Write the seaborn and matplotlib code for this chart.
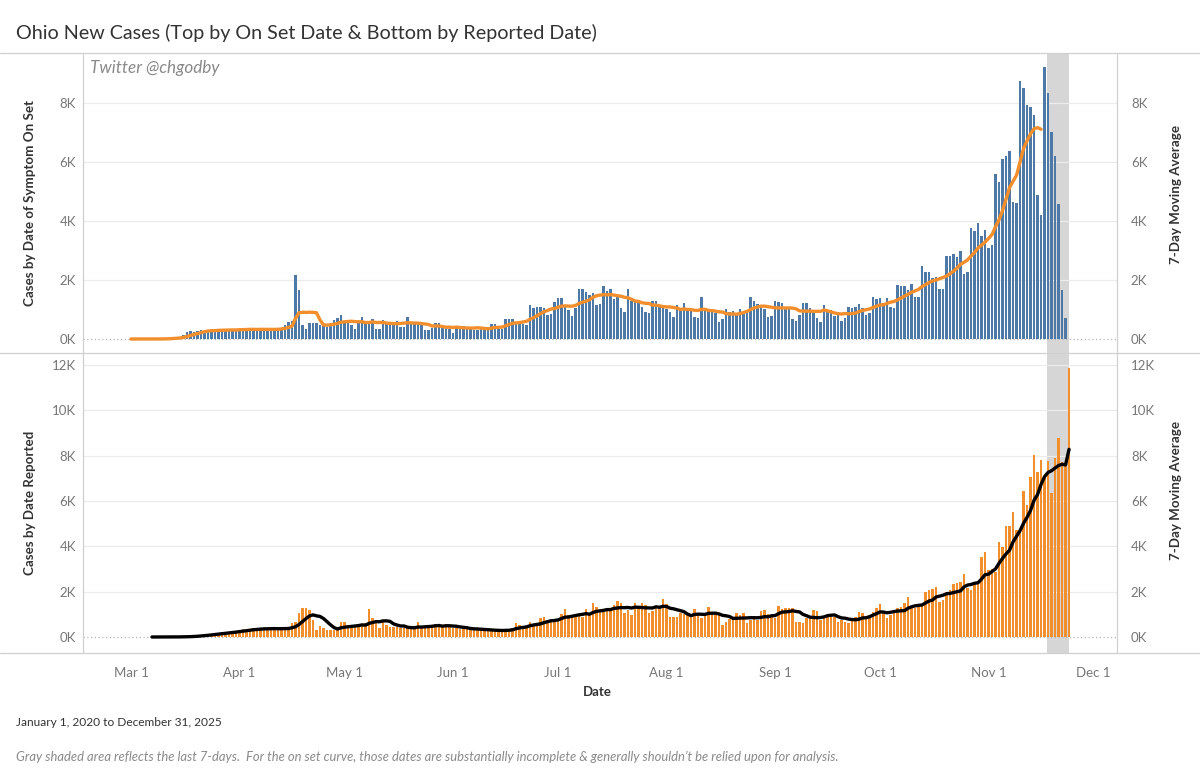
import matplotlib
matplotlib.use("Agg")
import matplotlib.pyplot as plt
from matplotlib.lines import Line2D
import numpy as np
import pandas as pd
import seaborn as sns

# ---------------- data (daily values, starting 2020-03-01) ----------------
onset_mar = [0, 0, 0, 0, 0, 0, 0, 0, 5, 10, 15, 30, 50, 60, 80, 120, 250, 280, 230, 270,
             300, 270, 300, 320, 290, 300, 300, 320, 300, 320, 310]
onset_apr = [350, 330, 340, 330, 310, 290, 350, 330, 330, 330, 340, 330, 380, 480, 560,
             620, 2170, 1660, 475, 340, 530, 530, 530, 480, 460, 420, 430, 645, 725, 815]
onset_may = [590, 530, 480, 340, 610, 735, 610, 610, 670, 340, 340, 645, 555, 555, 555, 620,
             420, 400, 735, 530, 530, 530, 530, 305, 305, 360, 530, 530, 400, 360, 330]
onset_jun = [215, 450, 450, 450, 360, 360, 305, 305, 360, 360, 380, 510, 510, 360, 340,
             670, 670, 670, 590, 590, 520, 480, 1155, 1065, 1100, 1100, 1040, 815, 850, 1245]
onset_jul = [1380, 1380, 1150, 985, 790, 1040, 1700, 1690, 1610, 1495, 1575, 1155, 1190, 1810,
             1640, 1690, 1350, 1440, 1040, 930, 1690, 1290, 1270, 1270, 1100, 930, 870, 1300,
             1300, 1100, 1100]
onset_aug = [1010, 930, 735, 1155, 985, 1210, 985, 985, 760, 700, 1415, 985, 950, 930, 870,
             590, 670, 1010, 930, 950, 870, 1010, 850, 930, 1440, 1300, 1190, 1075, 1010, 735, 790]
onset_sep = [1300, 1270, 1210, 1040, 1040, 680, 620, 815, 1210, 1210, 1040, 985, 700, 590,
             1155, 985, 985, 780, 815, 620, 700, 1100, 1040, 1075, 1190, 1040, 815, 870, 1440, 1350]
onset_oct = [1380, 1210, 1380, 1100, 1040, 1835, 1780, 1800, 1665, 1870, 1415, 1415, 2490,
             2265, 2265, 2060, 2100, 1710, 1710, 2820, 2820, 2880, 2775, 3000, 2210, 2265,
             3760, 3650, 3930, 3480, 3680]
onset_nov = [3100, 3195, 5610, 5325, 6085, 6220, 6370, 4635, 4610, 8750, 8520, 7930, 7875,
             7580, 4895, 4215, 9235, 8350, 7015, 6200, 4580, 1665, 700]

reported_mar = [0, 0, 0, 0, 0, 0, 0, 0, 1, 0, 2, 1, 8, 11, 10, 17, 17, 40, 50, 80, 100, 110,
                120, 140, 150, 180, 200, 220, 240, 250, 270]
reported_apr = [300, 350, 330, 360, 380, 350, 370, 380, 360, 380, 380, 340, 360, 380, 420,
                600, 680, 1050, 1290, 1265, 1190, 750, 310, 500, 410, 310, 310, 330, 310, 680]
reported_may = [680, 530, 420, 420, 480, 530, 600, 1220, 820, 680, 380, 750, 530, 455, 455,
                455, 380, 380, 380, 380, 420, 680, 455, 455, 455, 455, 560, 485, 485, 575, 450]
reported_jun = [380, 380, 360, 360, 360, 340, 340, 340, 300, 280, 260, 280, 300, 280, 310,
                320, 330, 400, 630, 530, 455, 455, 680, 560, 560, 820, 900, 750, 750, 750]
reported_jul = [750, 1000, 1220, 970, 970, 970, 970, 900, 1220, 1045, 1485, 1340, 1115, 1115,
                1145, 1220, 1410, 1600, 1485, 1075, 1190, 970, 1485, 1370, 1515, 1410, 1045,
                1160, 1340, 1340, 1675]
reported_aug = [1455, 870, 870, 870, 1045, 1015, 970, 970, 1220, 970, 820, 1015, 1340, 1015,
                970, 1000, 530, 680, 780, 780, 1045, 970, 1045, 600, 750, 780, 750, 1160, 1190,
                1015, 900]
reported_sep = [820, 1370, 1220, 1265, 1265, 1265, 680, 680, 600, 820, 820, 1190, 1160, 750,
                870, 970, 970, 900, 675, 750, 675, 600, 820, 900, 1090, 1045, 820, 970, 1120, 1265]
reported_oct = [1440, 1045, 820, 970, 1190, 1295, 1340, 1485, 1780, 1265, 1265, 1340, 1410,
                1970, 2070, 2100, 2190, 1530, 1630, 1880, 2070, 2320, 2370, 2440, 2780, 2175,
                2070, 2440, 2470, 3540, 3760]
reported_nov = [2950, 3000, 2880, 4175, 3985, 4910, 4910, 5500, 4720, 4645, 6450, 5810, 7070,
                8025, 7290, 7810, 7070, 7750, 6335, 7900, 8790, 7700, 7600, 11880]

tick_labels = ["Mar 1", "Apr 1", "May 1", "Jun 1", "Jul 1", "Aug 1", "Sep 1", "Oct 1",
               "Nov 1", "Dec 1"]
top_ticks = [0, 2000, 4000, 6000, 8000]
bottom_ticks = [0, 2000, 4000, 6000, 8000, 10000, 12000]

# ---------------- assemble ----------------
start = pd.Timestamp("2020-03-01")
onset = (onset_mar + onset_apr + onset_may + onset_jun + onset_jul + onset_aug +
         onset_sep + onset_oct + onset_nov)
reported = (reported_mar + reported_apr + reported_may + reported_jun + reported_jul +
            reported_aug + reported_sep + reported_oct + reported_nov)

top_df = pd.DataFrame({"day": np.arange(len(onset)), "cases": onset})
top_df["ma"] = top_df["cases"].rolling(7, min_periods=1).mean()
bot_df = pd.DataFrame({"day": np.arange(len(reported)), "cases": reported})
bot_df["ma"] = bot_df["cases"].rolling(7).mean()

last_day = len(reported) - 1
top_ma_df = top_df[top_df["day"] <= len(onset) - 8]
bot_ma_df = bot_df.dropna()

tick_days = [(pd.Timestamp(f"2020-{m:02d}-01") - start).days for m in range(3, 13)]

# ---------------- style ----------------
sns.set_theme(style="white")
plt.rcParams["font.family"] = ["Lato", "DejaVu Sans"]

W, H = 1200, 775
fig = plt.figure(figsize=(W / 100, H / 100), dpi=100)


def fx(x):
    return x / W


def fy(y):
    return 1 - y / H


BLUE = "#4E79A7"
ORANGE = "#F28E2B"
GRID = "#ececec"
BORDER = "#d0d0d0"
TXT = "#333333"
TICK = "#777777"

left_px, right_px = 83, 1117
xlim = (-13.7, 281.7)

ax_top = fig.add_axes([fx(left_px), fy(353), fx(right_px - left_px), 300 / H])
ax_bot = fig.add_axes([fx(left_px), fy(653), fx(right_px - left_px), 300 / H])

for ax in (ax_top, ax_bot):
    ax.axvspan(last_day - 6.4, last_day + 0.1, color="#d6d6d6", zorder=0, lw=0)

sns.barplot(data=top_df, x="day", y="cases", native_scale=True, color=BLUE, width=0.72,
            saturation=1, errorbar=None, linewidth=0, ax=ax_top, zorder=2)
sns.lineplot(data=top_ma_df, x="day", y="ma", color=ORANGE, linewidth=2.4, ax=ax_top,
             zorder=3, solid_capstyle="round")

sns.barplot(data=bot_df, x="day", y="cases", native_scale=True, color=ORANGE, width=0.76,
            saturation=1, errorbar=None, linewidth=0, ax=ax_bot, zorder=2)
sns.lineplot(data=bot_ma_df, x="day", y="ma", color="black", linewidth=2.4, ax=ax_bot,
             zorder=3, solid_capstyle="round")

ax_top.set_ylim(-(353 - 339) / 29.5 * 1000, (339 - 53) / 29.5 * 1000)
ax_bot.set_ylim(-(653 - 637) / 22.667 * 1000, (637 - 353) / 22.667 * 1000)

for ax, ticks in ((ax_top, top_ticks), (ax_bot, bottom_ticks)):
    ax.set_xlim(*xlim)
    for t in ticks[1:]:
        ax.axhline(t, color=GRID, lw=0.9, zorder=1)
    ax.axhline(0, color="#b5b5b5", lw=0.9, ls=(0, (1, 2)), zorder=1)
    ax.set_yticks(ticks)
    ax.set_yticklabels([f"{t // 1000}K" for t in ticks])
    ax.tick_params(axis="y", length=0, pad=5, labelsize=9.5, labelcolor=TICK)
    ax.set_xlabel("")
    ax.set_ylabel("")
    for s in ax.spines.values():
        s.set_visible(False)
    ax2 = ax.twinx()
    ax2.set_ylim(ax.get_ylim())
    ax2.set_yticks(ticks)
    ax2.set_yticklabels([f"{t // 1000}K" for t in ticks])
    ax2.tick_params(axis="y", length=0, pad=10, labelsize=9.5, labelcolor=TICK)
    for s in ax2.spines.values():
        s.set_visible(False)

ax_top.set_xticks([])
ax_bot.set_xticks(tick_days)
ax_bot.set_xticklabels(tick_labels)
ax_bot.tick_params(axis="x", length=0, pad=10, labelsize=9.5, labelcolor=TICK)

# frame lines
for y in (53, 353, 653):
    fig.add_artist(Line2D([0, 1], [fy(y), fy(y)], color=BORDER, lw=0.9))
for x in (left_px, right_px):
    fig.add_artist(Line2D([fx(x), fx(x)], [fy(53), fy(653)], color=BORDER, lw=0.9))

# texts
fig.text(fx(16), fy(33), "Ohio New Cases (Top by On Set Date & Bottom by Reported Date)",
         fontsize=14.2, color=TXT, va="center", ha="left")
fig.text(fx(90), fy(68), "Twitter @chgodby", fontsize=12.3, color="#8a8a8a", style="italic",
         va="center", ha="left")
fig.text(fx(30), fy(203), "Cases by Date of Symptom On Set", rotation=90, fontsize=9.6,
         color=TXT, va="center", ha="center", fontweight="bold")
fig.text(fx(30), fy(503), "Cases by Date Reported", rotation=90, fontsize=9.6,
         color=TXT, va="center", ha="center", fontweight="bold")
fig.text(fx(1176), fy(195), "7-Day Moving Average", rotation=90, fontsize=9.6,
         color=TXT, va="center", ha="center", fontweight="bold")
fig.text(fx(1176), fy(490), "7-Day Moving Average", rotation=90, fontsize=9.6,
         color=TXT, va="center", ha="center", fontweight="bold")
fig.text(fx(597), fy(692), "Date", fontsize=9.5, color=TXT, va="center", ha="center",
         fontweight="bold")
fig.text(fx(16), fy(722), "January 1, 2020 to December 31, 2025", fontsize=8.6, color=TXT,
         va="center", ha="left")
fig.text(fx(16), fy(757),
         "Gray shaded area reflects the last 7-days.  For the on set curve, those dates are "
         "substantially incomplete & generally shouldn\u2019t be relied upon for analysis.",
         fontsize=9.4, color="#8a8a8a", style="italic", va="center", ha="left")

fig.savefig("out.png", dpi=100)
